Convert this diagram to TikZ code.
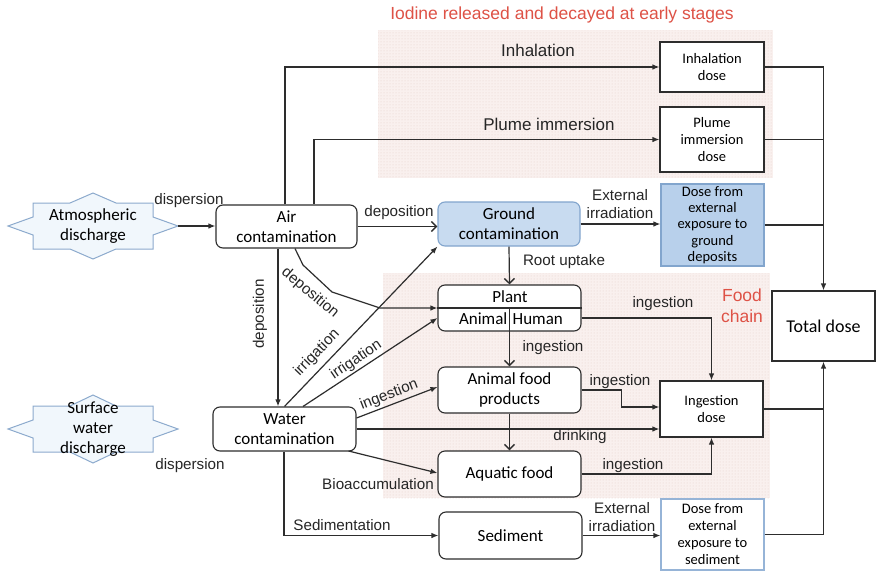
\documentclass[tikz,border=0pt]{standalone}
\usepackage{fontspec}
\setmainfont{Liberation Sans}
\newfontfamily\calib{Carlito}
\usetikzlibrary{arrows.meta,patterns,calc}
\definecolor{redtxt}{RGB}{222,82,70}
\definecolor{shadec}{RGB}{249,240,238}
\definecolor{dotc}{RGB}{228,206,202}
\definecolor{starfill}{RGB}{241,247,252}
\definecolor{starline}{RGB}{140,170,205}
\definecolor{gfill}{RGB}{200,219,240}
\definecolor{gline}{RGB}{130,165,205}
\definecolor{dfill}{RGB}{184,208,235}
\definecolor{sline}{RGB}{150,180,215}
\definecolor{lineg}{RGB}{45,45,45}
\begin{document}
\begin{tikzpicture}[x=1pt,y=-1pt,
  conn/.style={draw=lineg,line width=1.2pt},
  ar/.style={conn,-{Latex[length=7pt,width=5.5pt]}},
  av/.style={conn,-{Straight Barb[length=5pt,width=10pt,line width=1.4pt]}},
  rbox/.style={draw=lineg,line width=1.1pt,rounded corners=7pt,fill=white,align=center,font=\calib\fontsize{17}{20}\selectfont,inner sep=0pt},
  sbox/.style={draw=lineg,line width=1.1pt,fill=white,align=center,font=\calib\fontsize{14.5}{17}\selectfont,inner sep=0pt},
  starlbl/.style={align=center,font=\calib\fontsize{17}{20}\selectfont,inner sep=0pt,minimum width=170pt,minimum height=68pt},
  starsty/.style={draw=starline,fill=starfill,line width=1pt,line join=miter},
  lbl/.style={font=\fontsize{15.2}{18}\selectfont,inner sep=0pt,align=center,text=black!85},
  biglbl/.style={font=\fontsize{17}{20}\selectfont,inner sep=0pt,text=black!85},
  redlbl/.style={text=redtxt,font=\fontsize{17.5}{21}\selectfont,inner sep=0pt,align=center},
  txt/.style={font=\calib\fontsize{17}{20}\selectfont,inner sep=0pt}
]
\useasboundingbox (0,0) rectangle (876,573);
\fill[white] (0,0) rectangle (876,573);
% shaded regions
\fill[shadec] (378,30) rectangle (773,178);
\fill[pattern=dots,pattern color=dotc] (378,30) rectangle (773,178);
\fill[shadec] (383,273) rectangle (770,498);
\fill[pattern=dots,pattern color=dotc] (383,273) rectangle (770,498);
% stars
\begin{scope}[shift={(93,226)}]
\draw[starsty] (-85,0) -- (-60,-9) -- (-60,-23) -- (-23,-23) -- (0,-33) -- (23,-23) -- (60,-23) -- (60,-9) -- (85,0) -- (60,9) -- (60,23) -- (23,23) -- (0,33) -- (-23,23) -- (-60,23) -- (-60,9) -- cycle;
\end{scope}
\begin{scope}[shift={(93,429)}]
\draw[starsty] (-85,0) -- (-60,-9) -- (-60,-23) -- (-23,-23) -- (0,-34) -- (23,-23) -- (60,-23) -- (60,-9) -- (85,0) -- (60,9) -- (60,23) -- (23,23) -- (0,34) -- (-23,23) -- (-60,23) -- (-60,9) -- cycle;
\end{scope}
\node[starlbl] (atm) at (93,226) {Atmospheric\\discharge};
\node[starlbl] (surf) at (93,429) {Surface\\water\\discharge};
% rounded boxes
\node[rbox,minimum width=141pt,minimum height=43pt] (air) at (286.5,226.5) {Air\\contamination};
\node[rbox,minimum width=143pt,minimum height=44pt] (water) at (284.5,429) {Water\\contamination};
\node[rbox,draw=gline,fill=gfill,minimum width=142pt,minimum height=44pt] (ground) at (509,224) {Ground\\contamination};
\node[rbox,minimum width=143pt,minimum height=46pt] (plant) at (509.5,308) {};
\node[rbox,minimum width=143pt,minimum height=46pt] (animal) at (509.5,390) {Animal food\\products};
\node[rbox,minimum width=143pt,minimum height=46pt] (aquatic) at (509.5,474) {Aquatic food};
\node[rbox,minimum width=143pt,minimum height=47pt] (sediment) at (510.5,535.5) {Sediment};
% dose boxes
\node[sbox,minimum width=104pt,minimum height=50pt] (inh) at (712,67) {Inhalation\\dose};
\node[sbox,minimum width=104pt,minimum height=65pt] (plume) at (712,139.5) {Plume\\immersion\\dose};
\node[sbox,draw=gline,fill=dfill,minimum width=103pt,minimum height=82pt,font=\calib\fontsize{14.5}{16.3}\selectfont] (gdose) at (712.5,225) {Dose from\\external\\exposure to\\ground\\deposits};
\node[sbox,minimum width=103pt,minimum height=56pt] (ingdose) at (711.5,409) {Ingestion\\dose};
\node[sbox,draw=sline,minimum width=103pt,minimum height=71pt] (seddose) at (712.5,534.5) {Dose from\\external\\exposure to\\sediment};
\node[sbox,minimum width=103pt,minimum height=70pt,font=\calib\fontsize{18}{21}\selectfont] (total) at (823.5,326) {Total dose};
% plant inner texts
\draw[lineg,line width=1.1pt] (plant.west) -- (plant.east);
\node[txt] (plantt) at (510,297) {Plant};
\node[txt,anchor=east] (animalt) at (507.5,319) {Animal};
\node[txt,anchor=west] (humant) at (512.5,319) {Human};
% connectors
\draw[ar] (atm.east) -- (atm.east -| air.west);
\draw[av] (air.east) -- (air.east -| ground.west);
\draw[ar] ($(air.north)+(-1.5,0)$) |- (inh.west);
\draw[ar] ($(air.north)+(27.5,0)$) |- (plume.west);
\draw[ar] ($(air.south)+(-8.5,0)$) coordinate (d1) -- (d1 |- water.north);
\draw[ar] ($(air.south)+(8.5,0)$) -- (303,265) -- (332,292) -- (380,308) -- (plant.west);
\draw[ar] (water.north) -- (ground.south west);
\draw[ar] ($(water.north)+(18.5,0)$) -- ($(plant.west)+(0,10)$);
\draw[ar] ($(water.east)+(0,-11)$) -- ($(animal.west)+(0,-3)$);
\draw[ar] (water.east) -- (water.east -| ingdose.west);
\draw[ar] ($(water.east)+(-8,22)$) -- ($(aquatic.west)+(0,-1)$);
\draw[ar] ($(water.south)+(-0.5,0)$) |- (sediment.west);
\draw[ar] (ground.east) -- (ground.east -| gdose.west);
\draw[av] (ground.south) -- (plant.north);
\draw[av] (plant.center) -- (animal.north);
\draw[ar] ($(plant.east)+(0,10)$) -| (ingdose.north);
\draw[ar] (animal.east) -- ++(40,0) |- ($(ingdose.west)+(0,-2)$);
\draw[av] (animal.south) -- (aquatic.north);
\draw[ar] (aquatic.east) -| (ingdose.south);
\draw[ar] (sediment.east) -- (sediment.east -| seddose.west);
\draw[ar] (inh.east) -| (total.north);
\draw[conn] (plume.east) -- (plume.east -| total.north);
\draw[conn] (gdose.east) -- (gdose.east -| total.north);
\draw[ar] (seddose.east) -| (total.south);
\draw[conn] (ingdose.east) -- (ingdose.east -| total.south);
% labels
\node[lbl] (l1) at (189,201) {dispersion};
\node[lbl] (l2) at (190,466) {dispersion};
\node[lbl] (l3) at (399,213) {deposition};
\node[biglbl] (l4) at (538,50) {Inhalation};
\node[biglbl] (l5) at (549,124) {Plume immersion};
\node[lbl,rotate=90] (l6) at (260,314) {deposition};
\node[lbl,rotate=-40] (l7) at (310,293) {deposition};
\node[lbl,rotate=46] (l8) at (317,353) {irrigation};
\node[lbl,rotate=34] (l9) at (356,360) {irrigation};
\node[lbl,rotate=21] (l10) at (389,395) {ingestion};
\node[lbl] (l11) at (580,437) {drinking};
\node[lbl] (l12) at (378,484) {Bioaccumulation};
\node[lbl] (l13) at (342,525) {Sedimentation};
\node[lbl] (l14) at (620,204) {External\\irradiation};
\node[lbl] (l15) at (564,262) {Root uptake};
\node[lbl] (l16) at (553,348) {ingestion};
\node[lbl] (l17) at (663,304) {ingestion};
\node[lbl] (l18) at (620,382) {ingestion};
\node[lbl] (l19) at (633,466) {ingestion};
\node[lbl] (l20) at (622,517) {External\\irradiation};
\node[redlbl] (title) at (562,15) {Iodine released and decayed at early stages};
\node[redlbl] (food) at (742,306) {Food\\chain};
\end{tikzpicture}
\end{document}
